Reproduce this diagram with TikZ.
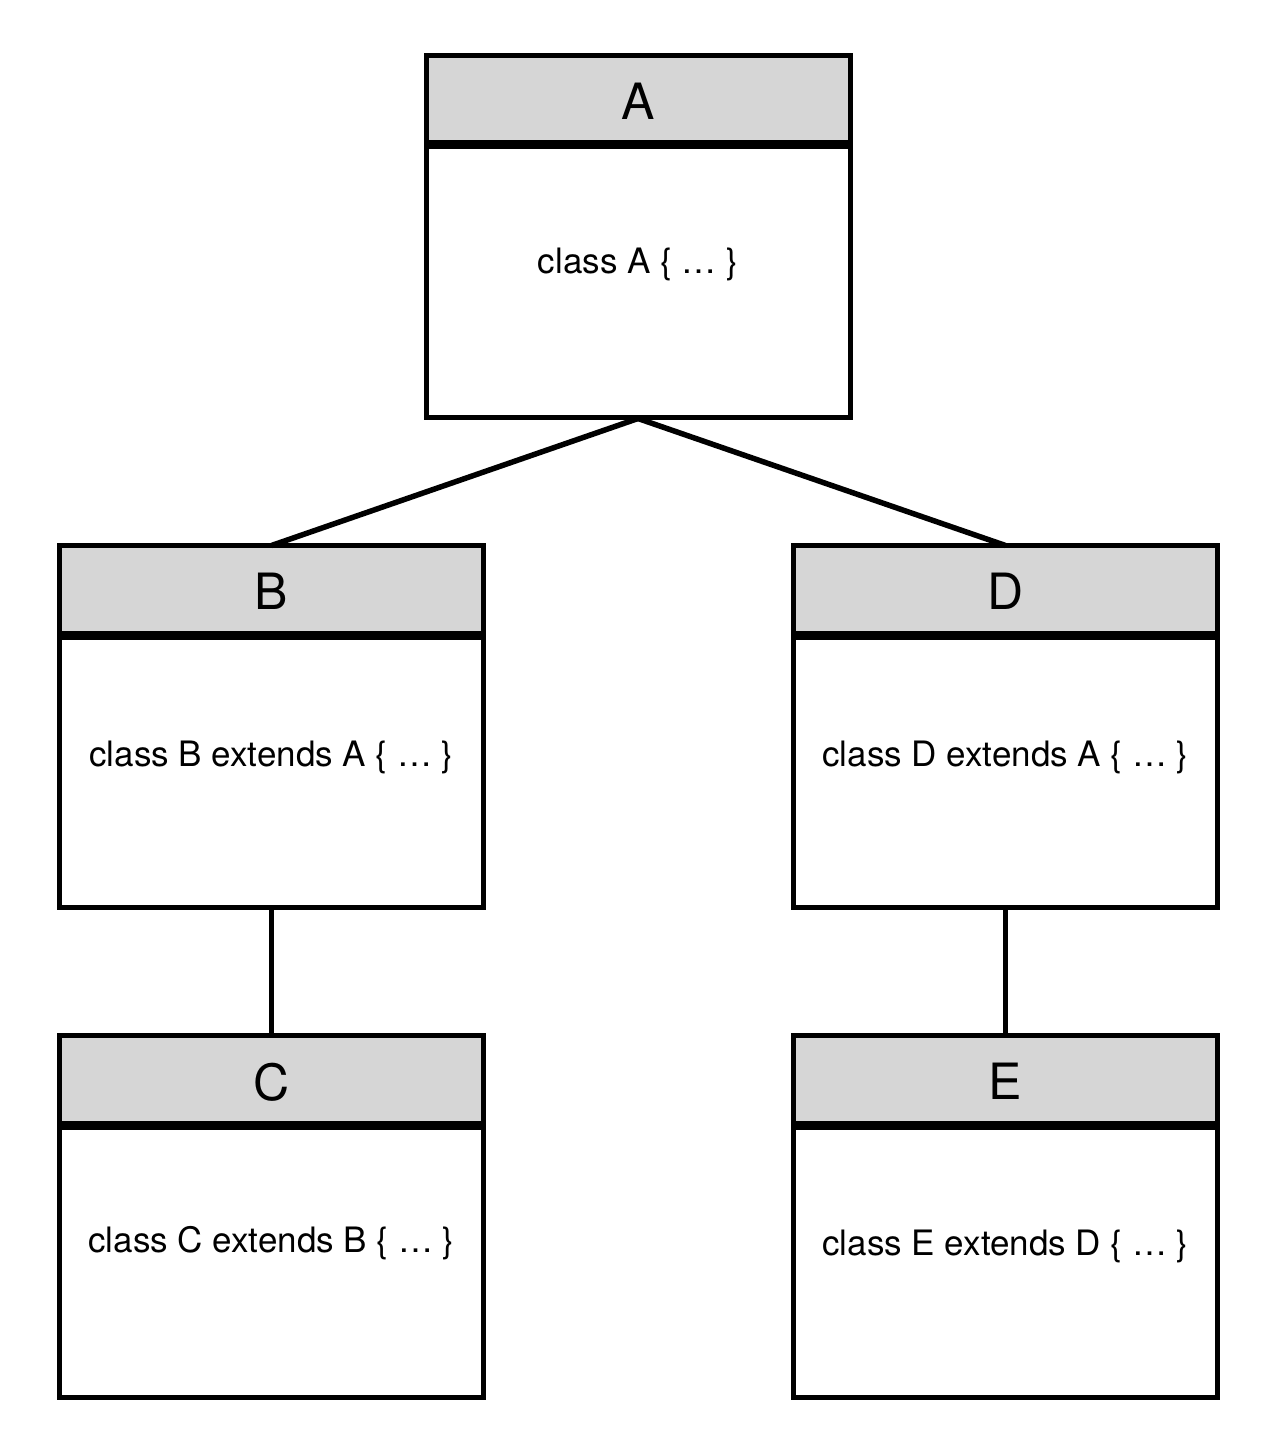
\documentclass[tikz,border=0pt]{standalone}
\usepackage{fontspec}
\setmainfont{TeX Gyre Heros}
\definecolor{headgray}{RGB}{214,214,214}
\begin{document}
\begin{tikzpicture}[x=1pt,y=-1pt,
  frame/.style={draw=black, line width=5pt, minimum width=424pt, minimum height=362pt, inner sep=0pt, outer sep=0pt},
  head/.style={fill=headgray, minimum width=424pt, minimum height=89.5pt, inner sep=0pt, outer sep=0pt, anchor=north, text depth=0pt, font=\fontsize{50}{60}\selectfont},
  sep/.style={line width=9pt},
  body/.style={inner sep=0pt, font=\fontsize{35}{42}\selectfont},
  link/.style={line width=5.5pt, line cap=butt}]
\useasboundingbox (0,0) rectangle (1280,1442);
% class boxes
\node[head] (Ah) at (638,55.5) {\raisebox{-3pt}{A}};
\node[head] (Bh) at (271.5,545.5) {\raisebox{-3pt}{B}};
\node[head] (Dh) at (1005.5,545.5) {\raisebox{-3pt}{D}};
\node[head] (Ch) at (271.5,1035.5) {\raisebox{-3pt}{C}};
\node[head] (Eh) at (1005.5,1035.5) {\raisebox{-3pt}{E}};
\foreach \n in {Ah,Bh,Dh,Ch,Eh}{\draw[sep] (\n.south west) -- (\n.south east);}
\node[frame] (A) at (638,236.5) {};
\node[frame] (B) at (271.5,726.5) {};
\node[frame] (D) at (1005.5,726.5) {};
\node[frame] (C) at (271.5,1216.5) {};
\node[frame] (E) at (1005.5,1216.5) {};
% body texts
\node[body] (At) at ([yshift=-209pt]A.north) {class A \{ … \}};
\node[body] (Bt) at ([yshift=-212pt]B.north) {class B extends A \{ … \}};
\node[body] (Dt) at ([yshift=-212pt]D.north) {class D extends A \{ … \}};
\node[body] (Ct) at ([yshift=-208pt]C.north) {class C extends B \{ … \}};
\node[body] (Et) at ([yshift=-211pt]E.north) {class E extends D \{ … \}};
% connectors
\draw[link] ([yshift=-1pt]A.south) -- (B.north);
\draw[link] ([yshift=-1pt]A.south) -- (D.north);
\draw[link] (B.south) -- (C.north);
\draw[link] (D.south) -- (E.north);
\end{tikzpicture}
\end{document}
